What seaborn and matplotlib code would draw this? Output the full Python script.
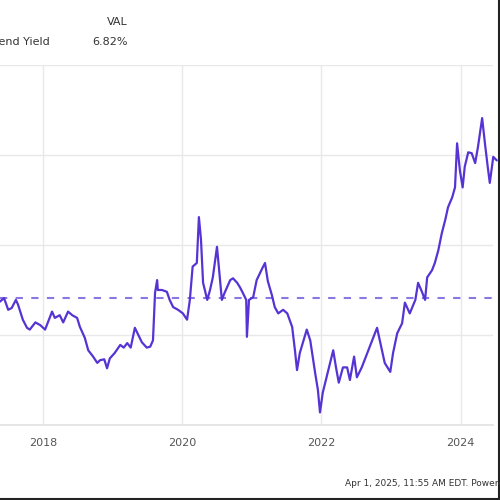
import matplotlib
matplotlib.use("Agg")
import matplotlib.pyplot as plt
import seaborn as sns
import pandas as pd
from matplotlib.lines import Line2D

# Decimal-year dates and dividend yield (%)
years = [
    2017.38, 2017.44, 2017.50, 2017.55, 2017.61, 2017.64, 2017.71, 2017.77, 2017.81, 2017.89,
    2017.96, 2018.03, 2018.13, 2018.17, 2018.24, 2018.29, 2018.36, 2018.42, 2018.49, 2018.53,
    2018.60, 2018.65, 2018.72, 2018.78, 2018.82, 2018.88, 2018.92, 2018.96, 2019.03, 2019.11,
    2019.16, 2019.21, 2019.26, 2019.32, 2019.37, 2019.42, 2019.49, 2019.54, 2019.58, 2019.61,
    2019.64, 2019.65, 2019.71, 2019.78, 2019.82, 2019.87, 2019.94, 2020.01, 2020.07, 2020.11,
    2020.15, 2020.21, 2020.24, 2020.27, 2020.30, 2020.36, 2020.40, 2020.44, 2020.50, 2020.54,
    2020.57, 2020.61, 2020.69, 2020.73, 2020.79, 2020.83, 2020.87, 2020.92, 2020.93, 2020.96,
    2021.02, 2021.07, 2021.15, 2021.19, 2021.23, 2021.29, 2021.33, 2021.38, 2021.45, 2021.51,
    2021.58, 2021.62, 2021.65, 2021.69, 2021.79, 2021.84, 2021.91, 2021.95, 2021.98, 2022.02,
    2022.09, 2022.17, 2022.21, 2022.25, 2022.31, 2022.37, 2022.41, 2022.47, 2022.51, 2022.58,
    2022.66, 2022.73, 2022.80, 2022.84, 2022.91, 2022.99, 2023.03, 2023.09, 2023.16, 2023.20,
    2023.27, 2023.35, 2023.39, 2023.45, 2023.49, 2023.52, 2023.59, 2023.63, 2023.68, 2023.73,
    2023.78, 2023.82, 2023.88, 2023.92, 2023.95, 2023.99, 2024.03, 2024.06, 2024.11, 2024.16,
    2024.21, 2024.25, 2024.31, 2024.35, 2024.39, 2024.42, 2024.47, 2024.52,
]
yield_pct = [
    5.37, 5.41, 5.28, 5.30, 5.39, 5.34, 5.17, 5.08, 5.06, 5.14,
    5.11, 5.06, 5.26, 5.19, 5.22, 5.14, 5.26, 5.22, 5.19, 5.09,
    4.97, 4.83, 4.76, 4.69, 4.72, 4.73, 4.63, 4.74, 4.80, 4.89,
    4.86, 4.91, 4.86, 5.08, 5.00, 4.92, 4.86, 4.87, 4.94, 5.47,
    5.61, 5.50, 5.50, 5.48, 5.39, 5.31, 5.28, 5.24, 5.17, 5.39,
    5.76, 5.80, 6.31, 6.06, 5.58, 5.39, 5.50, 5.64, 5.98, 5.64,
    5.39, 5.47, 5.61, 5.63, 5.58, 5.53, 5.47, 5.39, 4.98, 5.39,
    5.42, 5.61, 5.74, 5.80, 5.60, 5.44, 5.31, 5.24, 5.28, 5.24,
    5.09, 4.83, 4.61, 4.80, 5.06, 4.94, 4.58, 4.39, 4.14, 4.36,
    4.58, 4.83, 4.64, 4.47, 4.64, 4.64, 4.50, 4.76, 4.53, 4.64,
    4.80, 4.94, 5.08, 4.94, 4.69, 4.59, 4.80, 5.02, 5.13, 5.36,
    5.24, 5.39, 5.58, 5.47, 5.39, 5.64, 5.72, 5.80, 5.94, 6.13,
    6.28, 6.42, 6.53, 6.64, 7.13, 6.83, 6.64, 6.87, 7.03, 7.02,
    6.91, 7.09, 7.41, 7.13, 6.87, 6.69, 6.98, 6.94,
]
mean_yield = 5.41
x_ticks = [2018, 2020, 2022, 2024]
x_tick_labels = ["2018", "2020", "2022", "2024"]
y_grid = [4, 5, 6, 7, 8]
header_name = "Dividend Yield"
header_ticker = "VAL"
header_value = "6.82%"
footer = "Apr 1, 2025, 11:55 AM EDT. Powered by YCHARTS"

df = pd.DataFrame({"year": years, "yield": yield_pct})

sns.set_style("white")
plt.rcParams["font.family"] = ["DejaVu Sans"]

fig = plt.figure(figsize=(5, 5), dpi=100)
ax = fig.add_axes([0.0, 0.15, 0.986, 0.72])

line_color = "#5634d4"
sns.lineplot(data=df, x="year", y="yield", ax=ax, color=line_color,
             linewidth=1.6, clip_on=False, zorder=3)
ax.axhline(mean_yield, color="#8a78e2", linewidth=1.5,
           linestyle=(0, (3.5, 4.0)), zorder=2)

ax.set_xlim(2017.382, 2024.466)
ax.set_ylim(4, 8)
ax.set_xticks(x_ticks)
ax.set_xticklabels(x_tick_labels)
ax.set_yticks(y_grid)
ax.set_yticklabels([])
ax.tick_params(axis="x", length=0, pad=9, labelsize=8, labelcolor="#555555")
ax.tick_params(axis="y", length=0)
ax.grid(True, color="#e8e8e8", linewidth=1.0)
ax.set_xlabel("")
ax.set_ylabel("")
for s in ["left", "right", "top"]:
    ax.spines[s].set_visible(False)
ax.spines["bottom"].set_color("#e2e2e2")
ax.spines["bottom"].set_linewidth(1.2)

# header
fig.text(50 / 500, 1 - 42 / 500, header_name, ha="right", va="center",
         fontsize=8, color="#333333")
fig.text(128 / 500, 1 - 22 / 500, header_ticker, ha="right", va="center",
         fontsize=8, color="#333333")
fig.text(128 / 500, 1 - 42 / 500, header_value, ha="right", va="center",
         fontsize=8, color="#333333")
# footer
fig.text(345 / 500, 1 - 483 / 500, footer, ha="left", va="center",
         fontsize=6.5, color="#333333")

# screenshot frame on right and bottom
fig.add_artist(Line2D([0.997, 0.997], [0, 1], transform=fig.transFigure,
                      color="#222222", linewidth=1.5))
fig.add_artist(Line2D([0, 1], [0.003, 0.003], transform=fig.transFigure,
                      color="#222222", linewidth=1.5))

fig.savefig("out.png", dpi=100)
